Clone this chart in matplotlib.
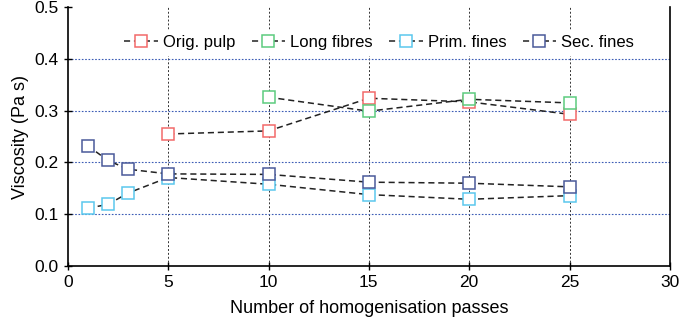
import matplotlib.pyplot as plt

plt.rcParams['font.family'] = ['Liberation Sans', 'DejaVu Sans']

# Data
passes_full = [1, 2, 3, 5, 10, 15, 20, 25]
passes_orig = [5, 10, 15, 20, 25]
passes_long = [10, 15, 20, 25]

orig_pulp = [0.255, 0.261, 0.324, 0.317, 0.293]
long_fibres = [0.326, 0.299, 0.322, 0.315]
prim_fines = [0.112, 0.119, 0.141, 0.171, 0.158, 0.138, 0.129, 0.136]
sec_fines = [0.232, 0.204, 0.187, 0.178, 0.177, 0.162, 0.160, 0.153]

series = [
    ("Orig. pulp", passes_orig, orig_pulp, "#f26a6a"),
    ("Long fibres", passes_long, long_fibres, "#5ccc7f"),
    ("Prim. fines", passes_full, prim_fines, "#5bc8ee"),
    ("Sec. fines", passes_full, sec_fines, "#4a5a9a"),
]

fig = plt.figure(figsize=(6.85, 3.21), dpi=100)
ax = fig.add_axes([0.099, 0.171, 0.879, 0.807])

# Grid
for x in [5, 10, 15, 20, 25]:
    ax.axvline(x, color="#333333", linestyle=(0, (2, 2)), linewidth=0.7, zorder=0)
for y in [0.1, 0.2, 0.3, 0.4]:
    ax.axhline(y, color="#3b5bb5", linestyle=(0, (1.5, 1.5)), linewidth=0.8, zorder=0)

# Series
for name, xs, ys, color in series:
    ax.plot(xs, ys, linestyle=(0, (4, 2.5)), color="#222222", linewidth=1.1,
            marker="s", markersize=9, markerfacecolor="white",
            markeredgecolor=color, markeredgewidth=1.1, label=name, zorder=3)

ax.set_xlim(0, 30)
ax.set_ylim(0, 0.5)
ax.set_xticks([0, 5, 10, 15, 20, 25, 30])
ax.set_yticks([0.0, 0.1, 0.2, 0.3, 0.4, 0.5])
ax.set_yticklabels([f"{v:.1f}" for v in [0.0, 0.1, 0.2, 0.3, 0.4, 0.5]])
ax.tick_params(axis="both", labelsize=12.5, direction="inout", length=6, width=1)
ax.spines["top"].set_visible(False)
for s in ["left", "bottom", "right"]:
    ax.spines[s].set_linewidth(1.2)

ax.set_xlabel("Number of homogenisation passes", fontsize=13, labelpad=7)
ax.set_ylabel("Viscosity (Pa s)", fontsize=13)

leg = ax.legend(loc="upper center", bbox_to_anchor=(0.517, 0.945), ncol=4, frameon=True,
                fontsize=12, handlelength=2.0, handletextpad=0.3, columnspacing=1.0,
                borderpad=0.3, fancybox=False)
leg.get_frame().set_edgecolor("white")
leg.get_frame().set_facecolor("white")
leg.get_frame().set_alpha(1)

fig.savefig("out.png", dpi=100)
